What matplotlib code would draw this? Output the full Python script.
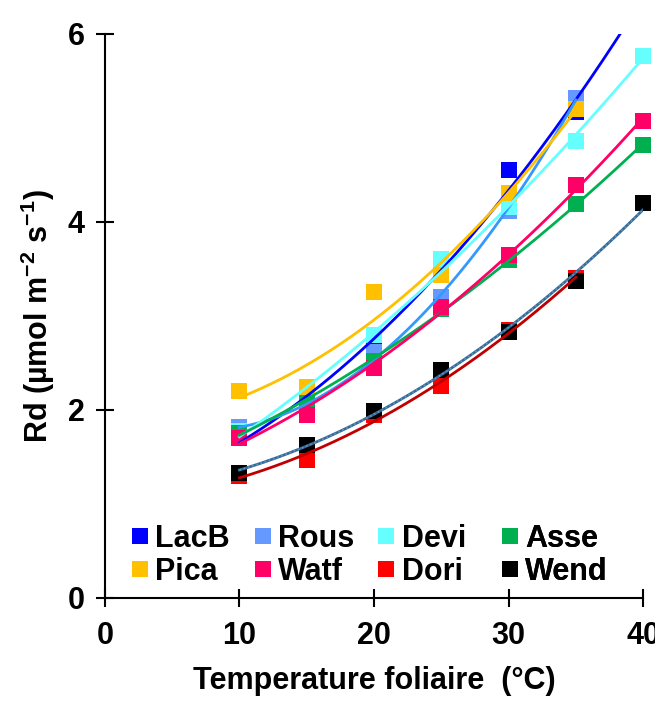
import numpy as np
import matplotlib
matplotlib.use('Agg')
import matplotlib.pyplot as plt
from matplotlib.lines import Line2D

plt.rcParams['font.family'] = ['Liberation Sans', 'DejaVu Sans']
plt.rcParams['font.weight'] = 'bold'
plt.rcParams['mathtext.fontset'] = 'custom'
plt.rcParams['mathtext.rm'] = 'Liberation Sans:bold'
plt.rcParams['mathtext.it'] = 'Liberation Sans:bold'
plt.rcParams['mathtext.bf'] = 'Liberation Sans:bold'

# Temperatures (°C)
temp = [10, 15, 20, 25, 30, 35, 40]

# Rd values per site (µmol m-2 s-1)
lacb = [1.70, 2.10, 2.70, 3.45, 4.55, 5.17, 6.40]
rous = [1.82, 2.02, 2.62, 3.20, 4.12, 5.32]
devi = [1.78, 2.12, 2.80, 3.61, 4.16, 4.86, 5.77]
asse = [1.76, 2.08, 2.52, 3.07, 3.60, 4.19, 4.82]
pica = [2.20, 2.24, 3.25, 3.44, 4.31, 5.20]
watf = [1.70, 1.95, 2.45, 3.10, 3.65, 4.39, 5.07]
dori = [1.30, 1.47, 1.95, 2.25, 2.85, 3.40]
wend = [1.33, 1.63, 1.99, 2.43, 2.83, 3.37, 4.20]

names = ['LacB', 'Rous', 'Devi', 'Asse', 'Pica', 'Watf', 'Dori', 'Wend']
series = [lacb, rous, devi, asse, pica, watf, dori, wend]
marker_colors = ['#0000FF', '#6699FF', '#66FFFF', '#00B050',
                 '#FFC000', '#FF0066', '#FF0000', '#000000']
line_colors = ['#0000FF', '#3399FF', '#66FFFF', '#00B050',
               '#FFC000', '#FF0066', '#C00000', '#336B99']

fig = plt.figure(figsize=(6.55, 7.01), dpi=100)
ax = fig.add_axes([0.160, 0.147, 0.822, 0.8045])
ymax = 6

# points (those above the y range are not shown)
for y, c in zip(series, marker_colors):
    x = np.array(temp[:len(y)])
    y = np.array(y)
    keep = y <= ymax
    ax.plot(x[keep], y[keep], 's', color=c, markersize=11.5,
            markeredgewidth=0, zorder=2, clip_on=False)

# trend lines (2nd order polynomial)
for y, c in zip(series, line_colors):
    x = np.array(temp[:len(y)], dtype=float)
    p = np.polyfit(x, y, 2)
    xs = np.linspace(x.min(), x.max(), 200)
    ax.plot(xs, np.polyval(p, xs), '-', color=c, lw=2.0, zorder=3)
    if c == '#336B99':
        ax.plot(xs, np.polyval(p, xs), ':', color='#6A92B8',
                lw=1.2, zorder=4)

ax.set_xlim(0, 40)
ax.set_ylim(0, ymax)
ax.set_xticks([0, 10, 20, 30, 40])
ax.set_yticks([0, 2, 4, 6])
for s in ['top', 'right']:
    ax.spines[s].set_visible(False)
for s in ['left', 'bottom']:
    ax.spines[s].set_linewidth(1.5)
ax.tick_params(direction='inout', length=13, width=1.5, labelsize=22)
ax.tick_params(axis='x', pad=10)
ax.tick_params(axis='y', pad=8)

ax.set_xlabel('Temperature foliaire  (°C)', fontsize=22, fontweight='bold', labelpad=11)
ax.set_ylabel(r'Rd (µmol m$^{-2}$ s$^{-1}$)', fontsize=22, fontweight='bold', labelpad=8)

# legend: 4 columns of 2 entries, evenly spaced like the original
col_x = [0.045, 0.274, 0.503, 0.733]
for k, cx in enumerate(col_x):
    idx = [k, k + 4]
    hs = [Line2D([], [], marker='s', linestyle='none', color=marker_colors[i],
                 markersize=11, markeredgewidth=0) for i in idx]
    leg = ax.legend(hs, [names[i] for i in idx], loc='lower left',
                    bbox_to_anchor=(cx, 0.02), frameon=False, fontsize=22,
                    handletextpad=0.15, labelspacing=0.1, handlelength=0.7,
                    borderpad=0, borderaxespad=0)
    ax.add_artist(leg)

fig.savefig('out.png', dpi=100)
